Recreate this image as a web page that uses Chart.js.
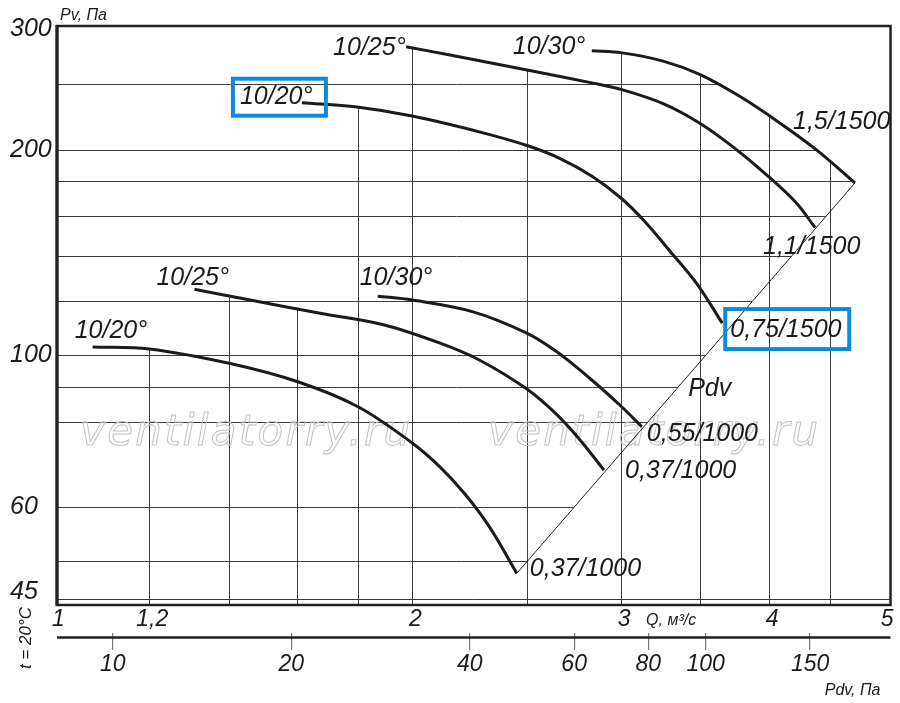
<!doctype html>
<html lang="ru">
<head>
<meta charset="UTF-8">
<title>Pv – Q</title>
<style>
  html, body { margin: 0; padding: 0; background: #fff; }
  .wrap { position: relative; width: 900px; height: 703px; }
</style>
</head>
<body>
<div class="wrap"><canvas id="chart"></canvas></div>
<script src="https://cdn.jsdelivr.net/npm/chart.js"></script>
<script>
// Q, м3/с и Pv, Па по каждой характеристике
var qA = [1.614, 1.796, 1.999, 2.282, 2.499, 2.665, 2.835, 2.999, 3.145, 3.299, 3.477, 3.651];
var pvA = [234.4, 231.0, 224.1, 212.3, 202.9, 194.2, 183.0, 170.0, 156.7, 142.1, 127.2, 111.5];
var qB = [1.976, 2.152, 2.499, 2.841, 3.005, 3.255, 3.498, 3.728, 3.981, 4.220, 4.372];
var pvB = [283.1, 275.3, 261.7, 250.4, 245.0, 233.7, 218.6, 202.0, 183.7, 166.9, 153.8];
var qC = [2.834, 3.005, 3.255, 3.498, 3.780, 4.085, 4.387, 4.725];
var pvC = [279.3, 277.3, 269.7, 257.7, 239.3, 218.8, 199.8, 178.9];
var qD = [1.075, 1.200, 1.404, 1.601, 1.800, 2.002, 2.111, 2.216, 2.326, 2.450];
var pvD = [102.9, 102.2, 97.3, 91.5, 84.1, 74.3, 68.6, 62.6, 55.9, 47.95];
var qE = [1.310, 1.460, 1.672, 1.891, 2.111, 2.282, 2.500, 2.648, 2.770, 2.902];
var pvE = [125.0, 120.5, 115.3, 110.9, 104.2, 98.3, 89.2, 81.9, 75.2, 67.9];
var qF = [1.870, 2.000, 2.251, 2.500, 2.648, 2.824, 3.003, 3.123];
var pvF = [122.1, 120.5, 115.8, 107.7, 101.2, 92.5, 84.1, 78.6];
// линия динамического давления Pdv
var qPdv = [2.450, 4.725];
var pvPdv = [47.95, 178.9];

// оси
var qMin = 1.0031, qMax = 5.062;
var pvMin = 43.1, pvMax = 303.6;
var pdvMin = 8.05, pdvMax = 205.0;
var qTicks = [1, 1.2, 2, 3, 4, 5];
var qTickLabels = ['1', '1,2', '2', '3', '4', '5'];
var qGrid = [1.2, 1.4, 1.6, 1.8, 2, 2.5, 3, 3.5, 4, 4.5];
var pvTicks = [45, 60, 100, 200, 300];
var pvGrid = [50, 60, 80, 90, 100, 120, 140, 160, 180, 200, 250];
var pvBaseLine = 44;
var pdvTicks = [10, 20, 40, 60, 80, 100, 150];

// подписи кривых: к началу/концу кривой со сдвигом в пикселях
var curveLabels = [
  { ds: 0, end: 'first', text: '10/20°', dx: -62, dy: 1 },
  { ds: 1, end: 'first', text: '10/25°', dx: -73, dy: 8 },
  { ds: 2, end: 'first', text: '10/30°', dx: -79, dy: 3 },
  { ds: 2, end: 'last', text: '1,5/1500', dx: -62, dy: -54 },
  { ds: 1, end: 'last', text: '1,1/1500', dx: -52, dy: 26 },
  { ds: 0, end: 'last', text: '0,75/1500', dx: 8, dy: 14 },
  { ds: 5, end: 'last', text: '0,55/1000', dx: 5, dy: 14 },
  { ds: 4, end: 'last', text: '0,37/1000', dx: 21, dy: 8 },
  { ds: 3, end: 'last', text: '0,37/1000', dx: 13, dy: 3 },
  { ds: 3, end: 'first', text: '10/20°', dx: -18, dy: -9 },
  { ds: 4, end: 'first', text: '10/25°', dx: -38, dy: -4 },
  { ds: 5, end: 'first', text: '10/30°', dx: -18, dy: -11 }
];
// синие рамки вокруг подписей (индекс подписи)
var boxes = [
  { label: 0, dx: -7, dy: -25, w: 93, h: 37 },
  { label: 5, dx: -5, dy: -28, w: 124, h: 40 }
];

var INK = '#1b1b1b';
var GRID = '#3c3c3c';
var FONT = '"Liberation Sans", Arial, sans-serif';

function xy(qs, ps) {
  return qs.map(function (q, i) { return { x: q, y: ps[i] }; });
}

function curve(qs, ps) {
  return {
    data: xy(qs, ps),
    borderColor: INK,
    borderWidth: 3,
    pointRadius: 0,
    fill: false,
    tension: 0.35,
    borderCapStyle: 'butt'
  };
}

// точки нарисованной кривой в пикселях (с учётом безье)
function curvePoints(chart, i) {
  var meta = chart.getDatasetMeta(i);
  var line = meta.dataset;
  if (line && line.updateControlPoints) line.updateControlPoints(chart.chartArea, 'x');
  var p = meta.data;
  var out = [{ x: p[0].x, y: p[0].y }];
  for (var k = 1; k < p.length; k++) {
    var a = p[k - 1], b = p[k];
    var bez = a.cp2x !== undefined && b.cp1x !== undefined;
    for (var s = 1; s <= 12; s++) {
      var t = s / 12, u = 1 - t;
      if (bez) {
        out.push({
          x: u * u * u * a.x + 3 * u * u * t * a.cp2x + 3 * u * t * t * b.cp1x + t * t * t * b.x,
          y: u * u * u * a.y + 3 * u * u * t * a.cp2y + 3 * u * t * t * b.cp1y + t * t * t * b.y
        });
      } else {
        out.push({ x: a.x + (b.x - a.x) * t, y: a.y + (b.y - a.y) * t });
      }
    }
  }
  return out;
}

function labelAnchor(chart, l) {
  var pts = chart.getDatasetMeta(l.ds).data;
  var p = l.end === 'first' ? pts[0] : pts[pts.length - 1];
  return { x: p.x + l.dx, y: p.y + l.dy };
}

var drawing = {
  id: 'drawing',
  beforeDatasetsDraw: function (chart) {
    var ctx = chart.ctx, ca = chart.chartArea;
    var xs = chart.scales.x, ys = chart.scales.y;
    ctx.save();
    ctx.strokeStyle = GRID;
    ctx.lineWidth = 1;

    // горизонтальные линии: левее внешней огибающей и линии Pdv
    ctx.save();
    var c = curvePoints(chart, 2);
    var pd = chart.getDatasetMeta(6).data;
    var lo = pd[0], hi = pd[1];
    ctx.beginPath();
    ctx.moveTo(ca.left - 2, ca.top - 2);
    ctx.lineTo(c[0].x, ca.top - 2);
    c.forEach(function (p) { ctx.lineTo(p.x, p.y); });
    ctx.lineTo(hi.x, hi.y);
    ctx.lineTo(lo.x, lo.y);
    var k = (lo.x - hi.x) / (lo.y - hi.y);
    ctx.lineTo(lo.x + k * (ca.bottom + 2 - lo.y), ca.bottom + 2);
    ctx.lineTo(ca.left - 2, ca.bottom + 2);
    ctx.closePath();
    ctx.clip();
    ctx.beginPath();
    pvGrid.forEach(function (v) {
      var y = Math.round(ys.getPixelForValue(v)) + 0.5;
      ctx.moveTo(ca.left, y);
      ctx.lineTo(ca.right, y);
    });
    ctx.stroke();
    ctx.restore();

    // вертикальные линии: под верхней огибающей кривых
    ctx.save();
    ctx.beginPath();
    for (var i = 0; i < 6; i++) {
      var cp = curvePoints(chart, i);
      ctx.moveTo(cp[0].x, ca.bottom + 2);
      cp.forEach(function (p) { ctx.lineTo(p.x, p.y); });
      ctx.lineTo(cp[cp.length - 1].x, ca.bottom + 2);
      ctx.closePath();
    }
    ctx.clip();
    ctx.beginPath();
    qGrid.forEach(function (v) {
      var x = Math.round(xs.getPixelForValue(v)) + 0.5;
      ctx.moveTo(x, ca.top);
      ctx.lineTo(x, ca.bottom);
    });
    ctx.stroke();
    ctx.restore();

    // нижняя линия во всю ширину
    var yb = Math.round(ys.getPixelForValue(pvBaseLine)) + 0.5;
    ctx.beginPath();
    ctx.moveTo(ca.left, yb);
    ctx.lineTo(ca.right, yb);
    ctx.stroke();

    // водяной знак
    ctx.font = 'italic 42px "DejaVu Sans", sans-serif';
    var txt = 'ventilatorry.ru';
    var w = ctx.measureText(txt).width;
    if ('letterSpacing' in ctx) ctx.letterSpacing = ((330 - w) / 14).toFixed(2) + 'px';
    ctx.strokeStyle = '#c2c2c2';
    ctx.lineWidth = 1;
    ctx.textBaseline = 'alphabetic';
    ctx.textAlign = 'left';
    [1.049, 2.317].forEach(function (q) {
      ctx.strokeText(txt, xs.getPixelForValue(q), ys.getPixelForValue(73.9));
    });
    ctx.restore();
  },
  afterDatasetsDraw: function (chart) {
    var ctx = chart.ctx, ca = chart.chartArea;
    var xs = chart.scales.x, ys = chart.scales.y;
    ctx.save();

    // рамка
    ctx.strokeStyle = '#222';
    ctx.lineWidth = 2.5;
    ctx.strokeRect(ca.left, ca.top, ca.right - ca.left, ca.bottom - ca.top);
    ctx.lineWidth = 3.2;
    ctx.beginPath();
    ctx.moveTo(ca.left, ca.top - 1);
    ctx.lineTo(ca.left, ca.bottom + 1);
    ctx.stroke();

    // линия шкалы Pdv
    var x2 = chart.scales.x2;
    ctx.lineWidth = 2.3;
    ctx.beginPath();
    ctx.moveTo(ca.left, x2.top + 4.5);
    ctx.lineTo(ca.right, x2.top + 4.5);
    ctx.stroke();

    // подписи кривых
    ctx.fillStyle = INK;
    ctx.font = 'italic 25px ' + FONT;
    ctx.textAlign = 'left';
    ctx.textBaseline = 'alphabetic';
    var anchors = curveLabels.map(function (l) {
      var a = labelAnchor(chart, l);
      ctx.fillText(l.text, a.x, a.y);
      return a;
    });
    ctx.fillText('Pdv', xs.getPixelForValue(3.417), ys.getPixelForValue(87.3));

    // синие рамки
    ctx.strokeStyle = '#0b8ad8';
    ctx.lineWidth = 4;
    boxes.forEach(function (b) {
      var a = anchors[b.label];
      ctx.strokeRect(a.x + b.dx, a.y + b.dy, b.w, b.h);
    });

    // названия осей
    ctx.fillStyle = INK;
    ctx.font = 'italic 16px ' + FONT;
    ctx.fillText('Pv, Па', ca.left + 3, ca.top - 6);
    ctx.fillText('Q, м³/с', xs.getPixelForValue(3.149), ca.bottom + 20);
    ctx.textAlign = 'right';
    ctx.fillText('Pdv, Па', ca.right - 10, chart.height - 8);

    ctx.translate(26, 638);
    ctx.rotate(-Math.PI / 2);
    ctx.textAlign = 'center';
    ctx.textBaseline = 'middle';
    ctx.font = 'italic 17px ' + FONT;
    ctx.fillText('t = 20°C', 0, 0);
    ctx.restore();
  }
};

var tickFont = { family: FONT, size: 23, style: 'italic' };

new Chart(document.getElementById('chart'), {
  type: 'line',
  data: {
    datasets: [
      curve(qA, pvA),
      curve(qB, pvB),
      curve(qC, pvC),
      curve(qD, pvD),
      curve(qE, pvE),
      curve(qF, pvF),
      {
        data: xy(qPdv, pvPdv),
        borderColor: '#222',
        borderWidth: 1,
        pointRadius: 0,
        fill: false
      }
    ]
  },
  options: {
    responsive: true,
    maintainAspectRatio: false,
    animation: false,
    events: [],
    layout: { padding: { left: 10, right: 9.5, top: 26, bottom: 0 } },
    plugins: { legend: { display: false }, tooltip: { enabled: false } },
    scales: {
      x: {
        type: 'logarithmic',
        position: 'bottom',
        min: qMin,
        max: qMax,
        afterBuildTicks: function (s) { s.ticks = qTicks.map(function (v) { return { value: v }; }); },
        afterFit: function (s) { s.height = 28; },
        grid: { display: false, drawTicks: false },
        border: { display: false },
        ticks: {
          autoSkip: false, maxRotation: 0, minRotation: 0,
          padding: 1, labelOffset: 3,
          color: INK, font: tickFont,
          callback: function (v) { var i = qTicks.indexOf(v); return i < 0 ? '' : qTickLabels[i]; }
        }
      },
      x2: {
        type: 'logarithmic',
        position: 'bottom',
        min: pdvMin,
        max: pdvMax,
        afterBuildTicks: function (s) { s.ticks = pdvTicks.map(function (v) { return { value: v }; }); },
        afterFit: function (s) { s.height = 70; },
        grid: { display: true, drawOnChartArea: false, drawTicks: true, tickLength: 17, color: '#7a7a7a', lineWidth: 1.2 },
        border: { display: false },
        ticks: {
          autoSkip: false, maxRotation: 0, minRotation: 0,
          padding: 1, color: INK, font: tickFont,
          callback: function (v) { return String(v); }
        }
      },
      y: {
        type: 'logarithmic',
        position: 'left',
        min: pvMin,
        max: pvMax,
        afterBuildTicks: function (s) { s.ticks = pvTicks.map(function (v) { return { value: v }; }); },
        afterFit: function (s) { s.width = 47; },
        grid: { display: false, drawTicks: false },
        border: { display: false },
        ticks: {
          crossAlign: 'far', padding: 0,
          color: INK, font: { family: FONT, size: 25, style: 'italic' },
          callback: function (v) { return String(v); }
        }
      }
    }
  },
  plugins: [drawing]
});
</script>
</body>
</html>
